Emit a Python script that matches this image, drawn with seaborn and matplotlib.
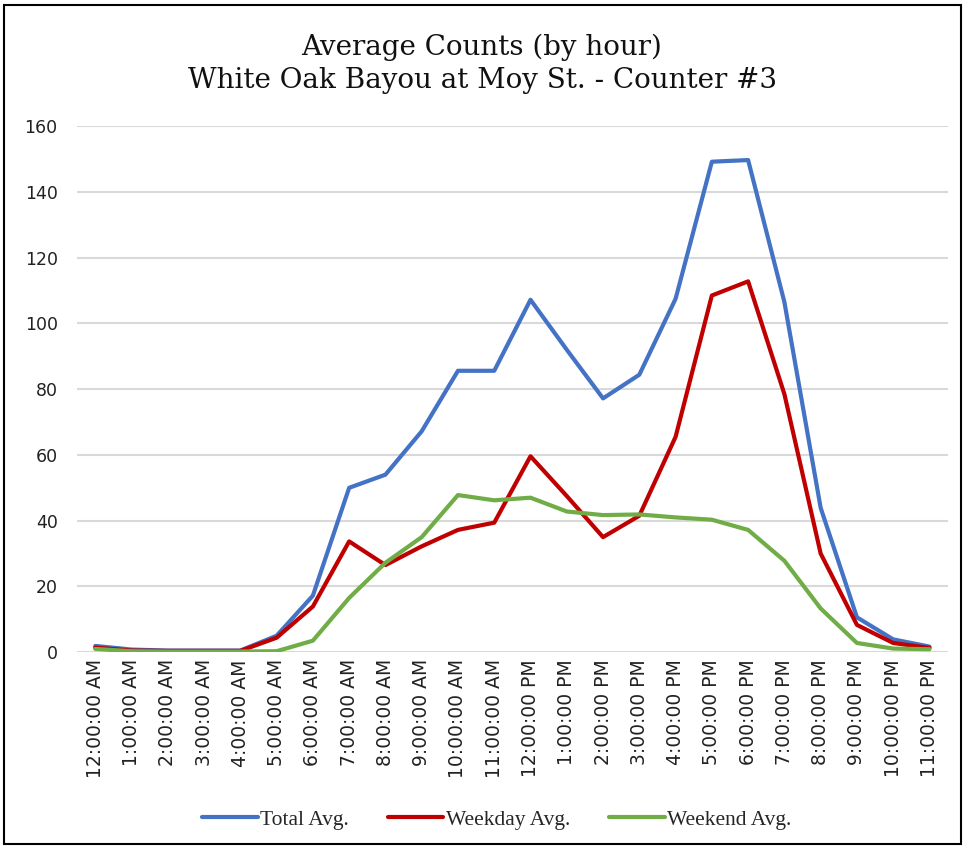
import pandas as pd
import numpy as np
import matplotlib.pyplot as plt
import seaborn as sns
from matplotlib.patches import Rectangle

hours = ['12:00:00 AM', '1:00:00 AM', '2:00:00 AM', '3:00:00 AM', '4:00:00 AM',
         '5:00:00 AM', '6:00:00 AM', '7:00:00 AM', '8:00:00 AM', '9:00:00 AM',
         '10:00:00 AM', '11:00:00 AM', '12:00:00 PM', '1:00:00 PM', '2:00:00 PM',
         '3:00:00 PM', '4:00:00 PM', '5:00:00 PM', '6:00:00 PM', '7:00:00 PM',
         '8:00:00 PM', '9:00:00 PM', '10:00:00 PM', '11:00:00 PM']

total_avg = [1.9, 0.8, 0.5, 0.5, 0.5, 5, 17.2, 50, 54, 67.2, 85.6, 85.6,
             107.2, 92, 77.2, 84.4, 107.5, 149.2, 149.7, 106.5, 43.9, 10.6, 3.9, 1.7]
weekday_avg = [1.4, 0.5, 0.4, 0.4, 0.4, 4.4, 13.9, 33.7, 26.5, 32.2, 37.2, 39.4,
               59.6, 47.5, 35, 41.5, 65.5, 108.5, 112.8, 78.5, 30, 8.3, 2.8, 1.3]
weekend_avg = [1, 0.3, 0.2, 0.2, 0.2, 0.3, 3.5, 16.5, 27.2, 35, 47.8, 46.2,
               47, 42.8, 41.7, 41.9, 41, 40.3, 37.2, 27.8, 13.3, 2.8, 1.1, 0.9]

series = ['Total Avg.', 'Weekday Avg.', 'Weekend Avg.']
colors = ['#4472C4', '#C00000', '#70AD47']

df = pd.DataFrame({
    'hour': list(range(len(hours))) * 3,
    'count': total_avg + weekday_avg + weekend_avg,
    'series': [s for s in series for _ in hours],
})

sns.set_style('white')
plt.rcParams['font.family'] = ['DejaVu Sans']

fig = plt.figure(figsize=(9.64, 8.47), dpi=100)
ax = fig.add_axes([0.080, 0.230, 0.903, 0.621])

sns.lineplot(data=df, x='hour', y='count', hue='series', palette=colors,
             linewidth=3, ax=ax, legend=False)

ax.set_xlim(-0.5, len(hours) - 0.5)
ax.set_ylim(0, 160)
ax.set_yticks(np.arange(0, 161, 20))
ax.set_xticks(range(len(hours)))
ax.set_xticklabels(hours, rotation=90, fontsize=13.5, color='#222222')
ax.tick_params(axis='y', labelsize=12.5, colors='#222222', length=0, pad=14)
ax.tick_params(axis='x', length=0, pad=5)
ax.grid(axis='y', color='#D9D9D9', linewidth=1.5)
ax.set_axisbelow(True)
for s in ax.spines.values():
    s.set_visible(False)
ax.set_xlabel('')
ax.set_ylabel('')

fig.text(0.5, 0.925, 'Average Counts (by hour)\nWhite Oak Bayou at Moy St. - Counter #3',
         ha='center', va='center', fontsize=20, family='DejaVu Serif',
         linespacing=1.3, color='#111111')

handles = [plt.Line2D([], [], color=c, linewidth=3) for c in colors]
fig.legend(handles, series, loc='center', bbox_to_anchor=(0.515, 0.032), ncol=3,
           frameon=False, prop={'family': 'Liberation Serif', 'size': 15.5},
           handlelength=2.6, handletextpad=0.1, columnspacing=1.8)

fig.patches.append(Rectangle((0.004, 0.004), 0.993, 0.990, transform=fig.transFigure,
                             fill=False, edgecolor='black', linewidth=1.5))

fig.savefig('out.png', dpi=100)
